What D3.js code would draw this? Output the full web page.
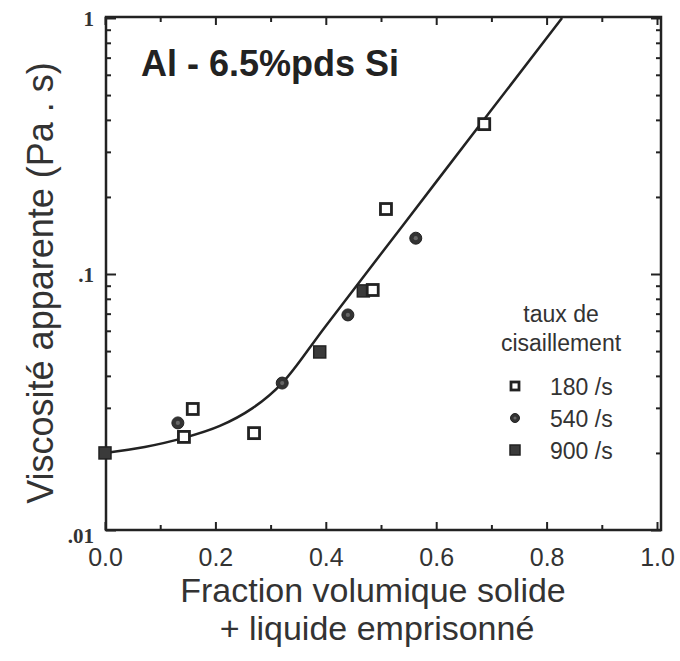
<!DOCTYPE html>
<html>
<head>
<meta charset="utf-8">
<script src="https://cdn.jsdelivr.net/npm/d3@7"></script>
<style>
  body { margin: 0; background: #fff; }
  svg { display: block; }
</style>
</head>
<body>
<svg width="680" height="661"></svg>
<script>
// data
var x180 = [0.143, 0.159, 0.27, 0.485, 0.509, 0.687];
var v180 = [0.0231, 0.0297, 0.0239, 0.0866, 0.1794, 0.385];
var x540 = [0.132, 0.321, 0.44, 0.563];
var v540 = [0.0262, 0.0375, 0.0692, 0.138];
var x900 = [0.0, 0.389, 0.468];
var v900 = [0.020, 0.0496, 0.0859];

// fitted curve
var fitX = [0, 0.072, 0.143, 0.208, 0.268, 0.321, 0.40, 0.6, 0.828];
var fitV = [0.020, 0.0211, 0.0229, 0.0255, 0.030, 0.0375, 0.0627, 0.229, 1.0];

var xTicks = [0, 0.2, 0.4, 0.6, 0.8, 1.0];
var xMinor = [0.1, 0.3, 0.5, 0.7, 0.9];
var yTicks = [0.01, 0.1, 1];
var yLabels = [".01", ".1", "1"];
var yMinor = [0.02, 0.03, 0.04, 0.05, 0.06, 0.07, 0.08, 0.09, 0.2, 0.3, 0.4, 0.5, 0.6, 0.7, 0.8, 0.9];

var legendNames = ["180 /s", "540 /s", "900 /s"];
var xTitle = ["Fraction volumique solide", "+ liquide emprisonné"];

var svg = d3.select('svg');
var ink = "#222";
var sans = "Liberation Sans, Arial, sans-serif";

var frameL = 106, frameR = 661, frameT = 17, frameB = 530;

var x = d3.scaleLinear().domain([0, 1]).range([105, 657]);
var y = d3.scaleLog().domain([0.01, 1]).range([530, 18]);

// frame
svg.append("rect")
    .attr("x", frameL).attr("y", frameT)
    .attr("width", frameR - frameL).attr("height", frameB - frameT)
    .attr("fill", "none").attr("stroke", ink).attr("stroke-width", 2.5);

function tickGroup(axis, tx, ty, keepText) {
    var g = svg.append("g").attr("transform", "translate(" + tx + "," + ty + ")").call(axis);
    g.select(".domain").remove();
    g.selectAll(".tick line").attr("stroke", ink).attr("stroke-width", 2);
    if (!keepText) g.selectAll(".tick text").remove();
    return g;
}

// x axes (bottom with labels, top ticks only)
var xb = tickGroup(d3.axisBottom(x).tickValues(xTicks).tickSize(-8).tickPadding(18)
    .tickFormat(d3.format(".1f")), 0, frameB, true);
xb.selectAll("text")
    .attr("font-family", sans)
    .attr("font-size", 25).attr("fill", "#333");
tickGroup(d3.axisBottom(x).tickValues(xMinor).tickSize(-5), 0, frameB);
tickGroup(d3.axisTop(x).tickValues(xTicks).tickSize(-8), 0, frameT);
tickGroup(d3.axisTop(x).tickValues(xMinor).tickSize(-5), 0, frameT);

// y axes
var yl = tickGroup(d3.axisLeft(y).tickValues(yTicks).tickSize(-10).tickPadding(12)
    .tickFormat(function(d, i) { return yLabels[i]; }), frameL, 0, true);
yl.selectAll("text")
    .attr("font-family", "Liberation Serif, Times New Roman, serif")
    .attr("font-weight", "bold")
    .attr("font-size", 21).attr("fill", "#333")
    .attr("dy", function(d) { return d === 0.01 ? "0.6em" : "0.35em"; });
tickGroup(d3.axisLeft(y).tickValues(yMinor).tickSize(-5), frameL, 0);
tickGroup(d3.axisRight(y).tickValues(yTicks).tickSize(-10), frameR, 0);
tickGroup(d3.axisRight(y).tickValues(yMinor).tickSize(-5), frameR, 0);

// fitted curve
var line = d3.line()
    .x(function(d) { return x(d[0]); })
    .y(function(d) { return y(d[1]); })
    .curve(d3.curveCatmullRom.alpha(0.5));
svg.append("path")
    .datum(d3.zip(fitX, fitV))
    .attr("d", line)
    .attr("fill", "none").attr("stroke", ink).attr("stroke-width", 2.5);

// markers
function openSquare(g, cx, cy, s) {
    g.append("rect").attr("x", cx - s / 2).attr("y", cy - s / 2)
        .attr("width", s).attr("height", s)
        .attr("fill", "#fff").attr("stroke", ink).attr("stroke-width", 2.8);
}
function dot(g, cx, cy, r) {
    g.append("circle").attr("cx", cx).attr("cy", cy).attr("r", r)
        .attr("fill", "#333").attr("stroke", ink).attr("stroke-width", 1);
    g.append("circle").attr("cx", cx).attr("cy", cy).attr("r", r * 0.35).attr("fill", "#666");
}
function filledSquare(g, cx, cy, s) {
    g.append("rect").attr("x", cx - s / 2).attr("y", cy - s / 2)
        .attr("width", s).attr("height", s)
        .attr("fill", "#3a3a3a").attr("stroke", ink).attr("stroke-width", 1.5);
}

var pts = svg.append("g");
d3.zip(x900, v900).forEach(function(d) { filledSquare(pts, x(d[0]), y(d[1]), 12); });
d3.zip(x180, v180).forEach(function(d) { openSquare(pts, x(d[0]), y(d[1]), 11); });
d3.zip(x540, v540).forEach(function(d) { dot(pts, x(d[0]), y(d[1]), 6); });

// title inside plot
svg.append("text")
    .attr("x", 141).attr("y", 76)
    .attr("font-family", sans)
    .attr("font-weight", "bold").attr("font-size", 36).attr("fill", ink)
    .text("Al - 6.5%pds Si");

// legend
var legHead = svg.append("text").attr("text-anchor", "middle")
    .attr("font-family", sans).attr("font-size", 23).attr("fill", "#333");
legHead.append("tspan").attr("x", 561).attr("y", 322).text("taux de");
legHead.append("tspan").attr("x", 561).attr("y", 351).text("cisaillement");

var legY = d3.scalePoint().domain(legendNames).range([386, 450]);
var lg = svg.append("g");
openSquare(lg, 515, legY(legendNames[0]), 8);
dot(lg, 515, legY(legendNames[1]), 4.5);
filledSquare(lg, 515, legY(legendNames[2]), 10);
lg.selectAll("text.leg").data(legendNames).enter().append("text")
    .attr("class", "leg")
    .attr("x", 550).attr("y", function(d) { return legY(d) + 9; })
    .attr("font-family", sans).attr("font-size", 23).attr("fill", "#333")
    .text(function(d) { return d; });

// axis titles
svg.append("text")
    .attr("transform", "translate(53,283) rotate(-90)")
    .attr("text-anchor", "middle")
    .attr("font-family", sans).attr("font-size", 36).attr("fill", "#333")
    .text("Viscosité apparente (Pa . s)");
svg.selectAll("text.xtitle").data(xTitle).enter().append("text")
    .attr("class", "xtitle")
    .attr("text-anchor", "middle")
    .attr("font-family", sans).attr("font-size", 34).attr("fill", "#333")
    .attr("x", function(d, i) { return i === 0 ? 373 : 377; })
    .attr("y", function(d, i) { return 602 + i * 38; })
    .text(function(d) { return d; });
</script>
</body>
</html>
